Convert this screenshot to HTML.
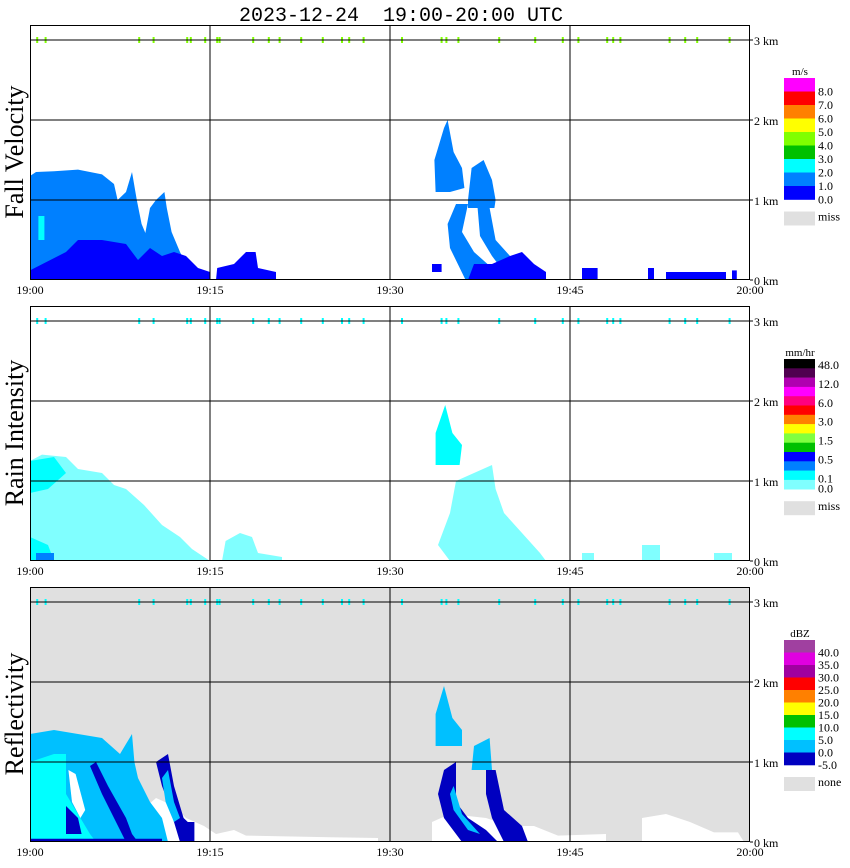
<!DOCTYPE html>
<html><head><meta charset="utf-8"><style>
body{margin:0;background:#fff;}
svg{display:block;font-family:"Liberation Serif",serif;}
</style></head><body>
<svg id="c" width="850" height="868" viewBox="0 0 850 868" xmlns="http://www.w3.org/2000/svg">
<text x="401" y="21" text-anchor="middle" font-family="Liberation Mono, monospace" font-size="20" style="white-space:pre">2023-12-24  19:00-20:00 UTC</text>
</svg>
<script>
// ---- data (minutes after 19:00, km) ----
const timeTicks = [0, 15, 30, 45, 60];
const timeLabels = ["19:00", "19:15", "19:30", "19:45", "20:00"];
const kmTicks = [0, 1, 2, 3];
const kmLabels = ["0 km", "1 km", "2 km", "3 km"];
const topMarks = [0.6,1.3,9.1,10.3,13.1,13.4,14.6,15.6,15.8,18.6,19.9,20.8,22.6,24.4,26,26.6,27.8,31,34.3,34.7,35.7,39.1,42.1,44.4,45.7,48.1,48.6,49.2,53.3,54.6,55.6,58.3];
const panelTitles = ["Fall Velocity", "Rain Intensity", "Reflectivity"];

// regions: level index, vertices [minute, km]
const fvRegions = [
 [1, [[0,0],[0,1.3],[0.5,1.35],[2,1.36],[4,1.38],[6,1.32],[7,1.2],[7.3,1.0],[8,1.1],[8.5,1.35],[8.9,1.0],[9.3,0.7],[10,0.45],[10.8,0.2],[11.5,0]]],
 [1, [[9.2,0],[9.5,0.5],[10,0.9],[10.5,1.0],[11.2,1.1],[11.4,0.9],[11.8,0.6],[12.5,0.35],[13,0.2],[13.5,0]]],
 [0, [[0,0],[0,0.12],[3,0.35],[4,0.5],[6,0.5],[8,0.45],[9,0.25],[10,0.4],[11,0.3],[12,0.35],[13,0.3],[14,0.15],[15,0.1],[15,0]]],
 [0, [[15.5,0],[15.6,0.15],[17,0.2],[18,0.35],[18.8,0.35],[19,0.15],[20.5,0.1],[20.5,0]]],
 [2, [[0.7,0.5],[0.7,0.8],[1.2,0.8],[1.2,0.5]]],
 [1, [[33.8,1.1],[33.7,1.5],[34.5,1.9],[34.8,2.0],[35.3,1.6],[36,1.4],[36.2,1.15],[35,1.1]]],
 [1, [[36.5,1.0],[36.8,1.4],[37.8,1.5],[38.5,1.25],[38.8,1.0],[38.7,0.9],[36.5,0.9]]],
 [1, [[35.5,0.95],[36.5,0.95],[36,0.6],[37,0.35],[38.5,0.15],[40,0],[36.3,0],[35,0.4],[34.8,0.7]]],
 [1, [[37.3,0.9],[38.3,0.9],[38.8,0.5],[40,0.3],[41.5,0.15],[42.5,0],[40,0],[38.5,0.3],[37.5,0.55]]],
 [0, [[36.5,0],[37,0.2],[38.5,0.2],[40,0.3],[41,0.35],[42,0.2],[43,0.1],[43,0]]],
 [0, [[33.5,0.1],[33.5,0.2],[34.3,0.2],[34.3,0.1]]],
 [0, [[46,0],[46,0.15],[47.3,0.15],[47.3,0]]],
 [0, [[51.5,0],[51.5,0.15],[52,0.15],[52,0]]],
 [0, [[53,0],[53,0.1],[58,0.1],[58,0]]],
 [0, [[58.5,0],[58.5,0.12],[58.9,0.12],[58.9,0]]]
];
const riRegions = [
 [0, [[0,0],[0,1.25],[1,1.33],[3,1.3],[4,1.15],[6,1.1],[7,0.95],[8,0.9],[9.5,0.7],[11,0.45],[12.5,0.3],[13.5,0.15],[14.5,0.05],[15,0]]],
 [1, [[0,0.85],[0,1.25],[2,1.3],[3,1.1],[1.5,0.9]]],
 [1, [[0,0],[0,0.3],[1.5,0.2],[2,0]]],
 [2, [[0.5,0],[0.5,0.1],[2,0.1],[2,0]]],
 [0, [[16,0],[16.3,0.25],[17.5,0.35],[18.5,0.3],[19,0.1],[21,0.05],[21,0]]],
 [1, [[33.8,1.2],[33.8,1.6],[34.6,1.95],[35.2,1.6],[36,1.45],[35.8,1.2]]],
 [0, [[35.5,1.0],[37,1.1],[38.5,1.2],[38.8,0.9],[39.5,0.6],[41,0.35],[42.5,0.1],[43,0],[35,0],[34,0.2],[35,0.6]]],
 [0, [[46,0],[46,0.1],[47,0.1],[47,0]]],
 [0, [[51,0],[51,0.2],[52.5,0.2],[52.5,0]]],
 [0, [[57,0],[57,0.1],[58.5,0.1],[58.5,0]]]
];
const dbzRegions = [
 [-1, [[9,0],[9,0.35],[10.5,0.55],[12,0.45],[13,0.3],[14.5,0.2],[15.5,0.1],[17,0.15],[18,0.08],[25,0.06],[29,0.05],[29,0]]],
 [-1, [[33.5,0],[33.5,0.25],[35,0.35],[38,0.3],[40,0.2],[42,0.2],[44,0.08],[48,0.1],[48,0]]],
 [-1, [[51,0],[51,0.3],[53,0.35],[55,0.25],[57,0.12],[59,0.12],[59.5,0]]],
 [1, [[0,0],[0,1.35],[2,1.4],[4,1.35],[6,1.3],[7.5,1.1],[8.5,1.35],[8.7,1.0],[9,0.8],[10,0.5],[11,0.3],[11.5,0]]],
 [2, [[0,0],[0,1.0],[1,1.05],[2,1.1],[3,1.1],[3,0.6],[5,0.1],[5.5,0]]],
 [-1, [[3.2,0.9],[3.5,0.5],[4.2,0.3],[4.6,0.4],[3.8,0.85]]],
 [0, [[5,0.95],[5.5,1.0],[6.5,0.7],[8,0.3],[8.5,0.1],[9,0],[8,0],[7,0.3],[6,0.6]]],
 [0, [[10.5,1.0],[11.5,1.1],[12,0.7],[12.8,0.3],[13.5,0.2],[13.5,0],[12.5,0],[11.5,0.5],[11,0.7]]],
 [1, [[11,0.8],[11.5,0.9],[12,0.5],[12.5,0.3],[12,0.25],[11.3,0.5]]],
 [0, [[0,0],[0,0.04],[11,0.04],[11,0]]],
 [0, [[3,0.1],[3,0.45],[4,0.3],[4.3,0.1]]],
 [0, [[12.5,0],[12.5,0.25],[13.7,0.25],[13.7,0]]],
 [1, [[33.8,1.2],[33.8,1.6],[34.5,1.95],[35.2,1.55],[36,1.4],[36,1.2]]],
 [1, [[36.8,0.9],[37,1.2],[38.3,1.3],[38.5,0.9]]],
 [0, [[34.5,0.9],[35.5,1.0],[35.5,0.5],[36.5,0.3],[38,0.15],[39,0],[36,0],[34.5,0.3],[34,0.6]]],
 [0, [[38,0.9],[38.8,0.9],[39.5,0.4],[41,0.2],[41.5,0],[39.5,0],[38.5,0.3],[38,0.6]]],
 [1, [[35,0.6],[35.3,0.4],[36.5,0.15],[37.5,0.1],[36,0.35],[35.3,0.7]]]
];
const fvScale = ["#0000ff", "#0080ff", "#00ffff"];
const riScale = ["#80ffff", "#00ffff", "#0080ff"];
const dbzScale = ["#0000c0", "#00c0ff", "#00ffff"];

const fvBar = ["#ff00ff","#ff0000","#ff8000","#ffff00","#80ff00","#00c000","#00ffff","#0080ff","#0000ff"];
const fvBarLabels = ["8.0","7.0","6.0","5.0","4.0","3.0","2.0","1.0","0.0"];
const riBar = ["#000000","#500050","#b000b0","#ff00ff","#ff0080","#ff0000","#ff8000","#ffff00","#80ff40","#00c000","#0000ff","#0080ff","#00ffff","#80ffff"];
const riBarLabels = ["48.0","12.0","6.0","3.0","1.5","0.5","0.1","0.0"];
const dbzBar = ["#a040a0","#e000e0","#a000a0","#ff0000","#ff8000","#ffff00","#00c000","#00ffff","#00c0ff","#0000c0"];
const dbzBarLabels = ["40.0","35.0","30.0","25.0","20.0","15.0","10.0","5.0","0.0","-5.0"];

// ---- drawing ----
const NS = "http://www.w3.org/2000/svg";
const svg = document.getElementById("c");
const X0 = 30, X1 = 750;
const xs = m => X0 + m * (X1 - X0) / 60;
function mk(tag, attrs, parent) {
  const e = document.createElementNS(NS, tag);
  for (const k in attrs) e.setAttribute(k, attrs[k]);
  (parent || svg).appendChild(e);
  return e;
}
const panels = [
 {base: 280, regions: fvRegions, scale: fvScale, bg: "#ffffff", mark: "#80ff00", bar: fvBar, barLabels: fvBarLabels, unit: "m/s", barTop: 78, barH: 13.5, miss: "miss", name: "fall-velocity"},
 {base: 561, regions: riRegions, scale: riScale, bg: "#ffffff", mark: "#00ffff", bar: riBar, barLabels: riBarLabels, unit: "mm/hr", barTop: 359, barH: 9.3, miss: "miss", name: "rain-intensity"},
 {base: 842, regions: dbzRegions, scale: dbzScale, bg: "#e0e0e0", mark: "#00ffff", bar: dbzBar, barLabels: dbzBarLabels, unit: "dBZ", barTop: 640, barH: 12.5, miss: "none", name: "reflectivity"}
];
panels.forEach((p, pi) => {
  const ys = km => p.base - km * 80;
  const g = mk("g", {});
  
  
  const bg = mk("rect", {x: X0, y: p.base - 255, width: X1 - X0, height: 255, fill: p.bg}, g);
  
  
  p.regions.forEach(r => {
    const pts = r[1].map(v => xs(v[0]).toFixed(1) + "," + ys(v[1]).toFixed(1)).join(" ");
    const col = r[0] < 0 ? "#ffffff" : p.scale[r[0]];
    const pg = mk("polygon", {points: pts, fill: col}, g);
    
    
  });
  topMarks.forEach(m => {
    const t = mk("rect", {x: xs(m) - 1, y: ys(3) - 3, width: 2, height: 6, fill: p.mark}, g);
    
    
  });
  kmTicks.forEach((k, i) => {
    if (k > 0) mk("line", {x1: X0, x2: X1 + 3, y1: ys(k), y2: ys(k), stroke: "#000", "stroke-width": 1}, g);
    else mk("line", {x1: X1, x2: X1 + 3, y1: ys(k), y2: ys(k), stroke: "#000"}, g);
    const tl = mk("text", {x: X1 + 4, y: ys(k) + 5, "font-size": 12}, g);
    tl.textContent = kmLabels[i];
    
    
  });
  timeTicks.forEach((t, i) => {
    if (t > 0 && t < 60) mk("line", {x1: xs(t), x2: xs(t), y1: p.base - 255, y2: p.base, stroke: "#000"}, g);
    const tl = mk("text", {x: xs(t), y: p.base + 14, "font-size": 12, "text-anchor": "middle"}, g);
    tl.textContent = timeLabels[i];
    
    
  });
  mk("rect", {x: X0 + 0.5, y: p.base - 254.5, width: X1 - X0 - 1, height: 254, fill: "none", stroke: "#000", "stroke-width": 1}, g);
  const title = mk("text", {x: 0, y: 0, "font-size": 26, "text-anchor": "middle", transform: "translate(23," + (p.base - 128) + ") rotate(-90)"}, g);
  title.textContent = panelTitles[pi];
  
  
  // colorbar
  const u = mk("text", {x: 800, y: p.barTop - 3, "font-size": 11, "text-anchor": "middle"}, g);
  u.textContent = p.unit;
  
  
  p.bar.forEach((c, i) => {
    const b = mk("rect", {x: 784, y: p.barTop + i * p.barH, width: 31, height: p.barH + 0.3, fill: c}, g);
    
    
  });
  const barBottom = p.barTop + p.bar.length * p.barH;
  p.barLabels.forEach((l, i) => {
    let yy;
    if (pi === 1) yy = p.barTop + 10 + i * 18.9 - (i === 7 ? 9 : 0);
    else yy = p.barTop + (i + 1) * p.barH + 4;
    const tl = mk("text", {x: 818, y: yy, "font-size": 12}, g);
    tl.textContent = l;
    
    
  });
  const ms = mk("rect", {x: 784, y: barBottom + 12, width: 31, height: 14, fill: "#e0e0e0"}, g);
  
  
  const mt = mk("text", {x: 818, y: barBottom + 21, "font-size": 12}, g);
  mt.textContent = p.miss;
  
  
});
</script>
</body></html>
